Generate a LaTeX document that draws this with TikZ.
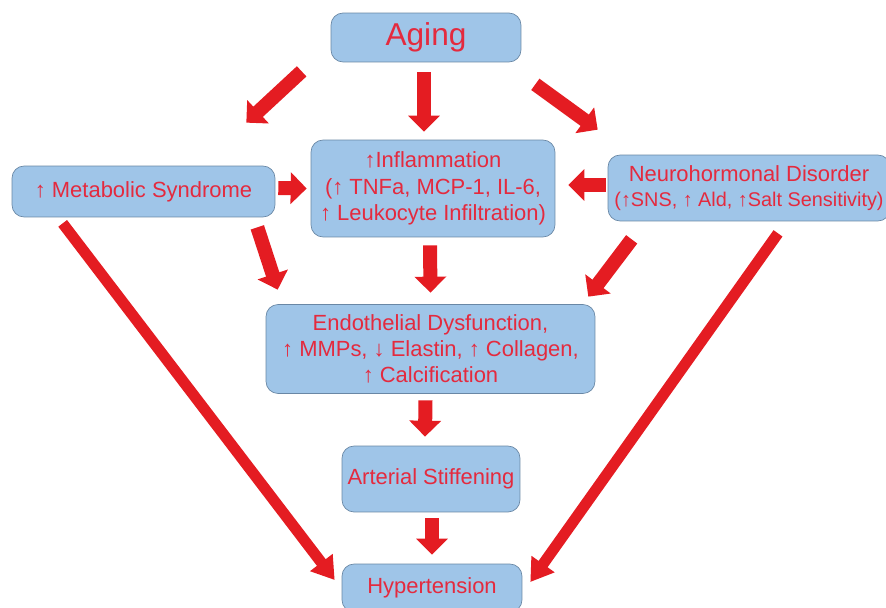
\documentclass[tikz,border=0pt]{standalone}
\usepackage{fontspec}
\setmainfont{Liberation Sans}
\usepackage{tikz}
\usetikzlibrary{positioning,arrows.meta}
\definecolor{boxblue}{RGB}{159,197,232}
\definecolor{boxline}{RGB}{105,135,165}
\definecolor{txtred}{RGB}{228,42,62}
\definecolor{arrred}{RGB}{228,28,34}

\begin{document}
\begin{tikzpicture}[x=0.02cm,y=-0.02cm,
  box/.style={draw=boxline,fill=boxblue,rounded corners=0.24cm,text=txtred,align=center,
    inner sep=0pt,font=\fontsize{12.5}{15}\selectfont},
  fat/.style={arrred,line width=0.28cm,-{Triangle[width=0.62cm,length=0.32cm]}},
  longfat/.style={arrred,line width=0.22cm,-{Triangle[width=0.54cm,length=0.44cm]}}]
  \useasboundingbox (0,0) rectangle (886,608);
  \node[box,minimum width=3.8cm,minimum height=0.98cm,font=\fontsize{18}{22}\selectfont] (aging) at (426,37.5){Aging};
  \node[box,minimum width=4.88cm,minimum height=1.94cm] (infl) at (433,188.5){↑Inflammation\\(↑ TNFa, MCP-1, IL-6,\\↑ Leukocyte Infiltration)};
  \node[box,minimum width=5.26cm,minimum height=1.02cm] (meta) at (143.5,191.5){↑ Metabolic Syndrome};
  \node[box,minimum width=5.64cm,minimum height=1.32cm] (neuro) at (749,188){Neurohormonal Disorder\\[-1pt]{\fontsize{11.3}{14}\selectfont(↑SNS, ↑ Ald, ↑Salt Sensitivity)}};
  \node[box,minimum width=6.58cm,minimum height=1.78cm] (endo) at (430.5,349){Endothelial Dysfunction,\\↑ MMPs, ↓ Elastin, ↑ Collagen,\\↑ Calcification};
  \node[box,minimum width=3.56cm,minimum height=1.32cm] (art) at (431,479){Arterial Stiffening};
  \node[box,minimum width=3.6cm,minimum height=0.96cm] (hyp) at (432,588){Hypertension};
  % from aging
  \draw[fat] ([shift={(-29,9)}]aging.south west) -- ([shift={(-29,-43)}]meta.north east);
  \draw[fat] ([shift={(-2,10)}]aging.south) -- ([shift={(-9,-8)}]infl.north);
  \draw[fat] ([shift={(14,22)}]aging.south east) -- ([shift={(-10,-25)}]neuro.north west);
  % into inflammation
  \draw[fat] ([shift={(3,-3.5)}]meta.east) -- ([shift={(-4,0)}]infl.west);
  \draw[fat] ([shift={(-2,-3)}]neuro.west) -- ([shift={(13,-3.5)}]infl.east);
  % into endothelial box
  \draw[fat] ([shift={(-18,10)}]meta.south east) -- ([shift={(12,-14.5)}]endo.north west);
  \draw[fat] ([shift={(-3,8)}]infl.south) -- ([shift={(0,-11.5)}]endo.north);
  \draw[fat] ([shift={(24,18)}]neuro.south west) -- ([shift={(-7,-7.5)}]endo.north east);
  \draw[fat] ([shift={(-5,6.5)}]endo.south) -- ([shift={(-6,-9)}]art.north);
  \draw[fat] ([shift={(1,6)}]art.south) -- ([shift={(0,-9)}]hyp.north);
  % long ones
  \draw[longfat] ([shift={(51,6)}]meta.south west) -- ([shift={(-7,-8)}]hyp.west);
  \draw[longfat] ([shift={(29,12)}]neuro.south) -- ([shift={(8,-6)}]hyp.east);
\end{tikzpicture}
\end{document}
